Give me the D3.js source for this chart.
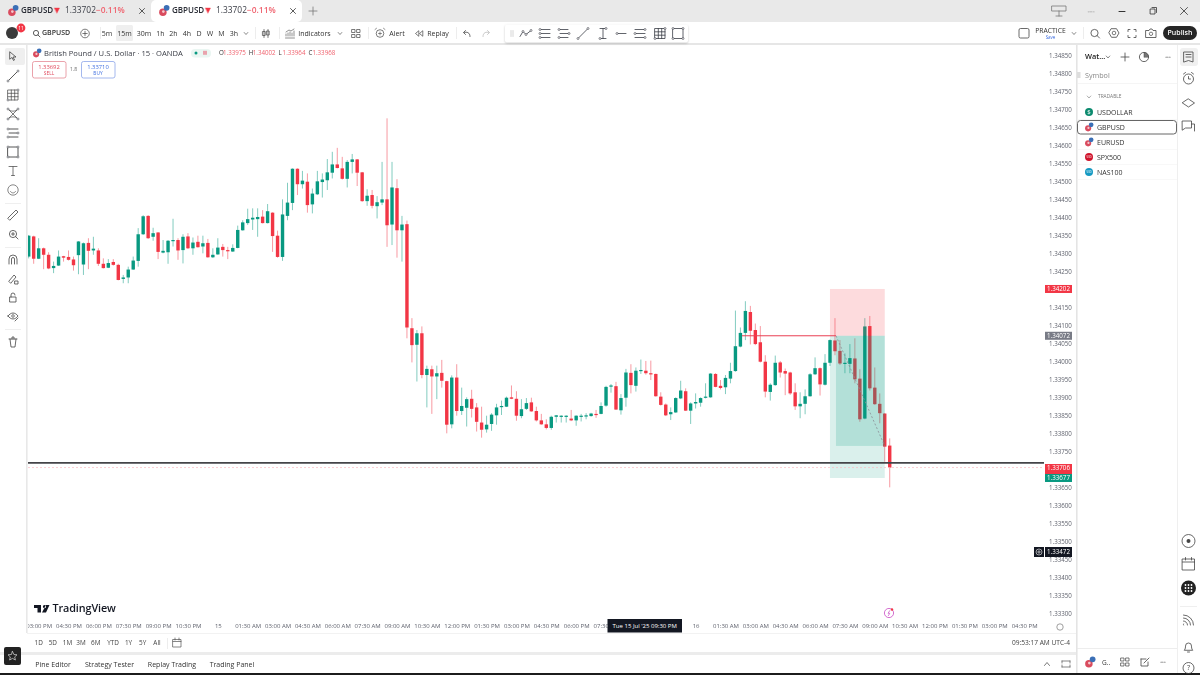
<!DOCTYPE html>
<html><head><meta charset="utf-8">
<script src="https://d3js.org/d3.v7.min.js"></script>
<style>html,body{margin:0;padding:0;background:#fff;overflow:hidden}svg{display:block;font-family:"Open Sans",sans-serif;filter:blur(.3px)}</style>
</head><body><svg id="c" width="1200" height="675"></svg>
<script>
// Bars run from 14 Jul 14:30 (index -38) to 16 Jul 09:45 (index 135); index 0 = 15 Jul 00:00
const opens=[1.34292,1.34348,1.34286,1.34315,1.34297,1.34260,1.34267,1.34293,1.34291,1.34284,1.34296,1.34270,1.34330,1.34309,1.34309,1.34272,1.34261,1.34277,1.34269,1.34230,1.34234,1.34256,1.34280,1.34354,1.34405,1.34347,1.34359,1.34303,1.34304,1.34336,1.34338,1.34310,1.34348,1.34315,1.34333,1.34320,1.34330,1.34290,1.34298,
1.34319,1.34310,1.34306,1.34316,1.34365,1.34385,1.34395,1.34396,1.34403,1.34385,1.34414,1.34350,1.34291,1.34405,1.34441,1.34536,1.34493,1.34500,1.34437,1.34465,1.34499,1.34504,1.34525,1.34548,1.34537,1.34508,1.34555,1.34562,1.34526,1.34446,1.34463,1.34432,1.34442,1.34451,1.34381,1.34482,1.34365,1.34382,
1.34093,1.34047,1.34079,1.33963,1.33979,1.33959,1.33969,1.33946,1.33826,1.33956,1.33863,1.33872,1.33897,1.33873,1.33831,1.33812,1.33827,1.33851,1.33874,1.33875,1.33901,1.33897,1.33849,1.33869,1.33887,1.33863,1.33837,1.33826,1.33816,1.33847,1.33847,1.33847,1.33842,1.33837,1.33848,1.33850,
1.33849,1.33855,1.33855,1.33878,1.33931,1.33932,1.33865,1.33900,1.33969,1.33933,1.33975,1.33975,1.33968,1.33966,1.33903,1.33881,1.33854,1.33859,1.33898,1.33918,1.33864,1.33884,1.33886,1.33900,1.33901,1.33966,1.33933,1.33929,1.33953,1.33974,1.34042,1.34080,1.34138,1.34088,1.34054,1.34000,1.33916,1.33935,1.33998,1.33974,
1.33970,1.33915,1.33876,1.33883,1.33904,1.33965,1.33982,1.33936,1.33997,1.34059,1.34030,1.33995,1.33994,1.34009,1.33953,1.33842,1.34099,1.33928,1.33883,1.33856,1.33767];
const highs=[1.34352,1.34350,1.34343,1.34317,1.34304,1.34278,1.34309,1.34294,1.34309,1.34292,1.34335,1.34331,1.34343,1.34347,1.34315,1.34287,1.34285,1.34285,1.34272,1.34241,1.34264,1.34292,1.34371,1.34407,1.34407,1.34372,1.34360,1.34338,1.34338,1.34397,1.34343,1.34354,1.34357,1.34345,1.34350,1.34350,1.34341,1.34315,1.34343,
1.34327,1.34319,1.34326,1.34378,1.34393,1.34425,1.34426,1.34426,1.34421,1.34438,1.34415,1.34364,1.34451,1.34497,1.34537,1.34537,1.34530,1.34523,1.34481,1.34530,1.34523,1.34563,1.34583,1.34594,1.34569,1.34560,1.34577,1.34563,1.34527,1.34479,1.34477,1.34460,1.34555,1.34676,1.34555,1.34507,1.34405,1.34392,
1.34121,1.34088,1.34098,1.33989,1.33989,1.33989,1.34005,1.33947,1.33962,1.33993,1.33928,1.33901,1.33922,1.33885,1.33875,1.33850,1.33857,1.33883,1.33892,1.33903,1.33934,1.33918,1.33896,1.33899,1.33900,1.33875,1.33855,1.33840,1.33850,1.33852,1.33851,1.33851,1.33866,1.33851,1.33855,1.33857,
1.33858,1.33866,1.33887,1.33933,1.33938,1.33944,1.33910,1.33980,1.33993,1.33984,1.34006,1.34002,1.34003,1.33967,1.33915,1.33884,1.33873,1.33901,1.33947,1.33926,1.33887,1.33912,1.33901,1.33940,1.33968,1.33968,1.33949,1.33963,1.33997,1.34142,1.34095,1.34168,1.34155,1.34106,1.34099,1.34018,1.33940,1.34017,1.34002,1.33981,
1.33972,1.33940,1.33915,1.33923,1.33968,1.34012,1.33984,1.34021,1.34062,1.34121,1.34060,1.34023,1.34049,1.34065,1.33979,1.34121,1.34127,1.33984,1.33912,1.33857,1.33787];
const lows=[1.34287,1.34272,1.34285,1.34257,1.34257,1.34246,1.34266,1.34278,1.34281,1.34253,1.34243,1.34241,1.34257,1.34297,1.34266,1.34259,1.34260,1.34267,1.34226,1.34218,1.34218,1.34255,1.34264,1.34352,1.34341,1.34336,1.34285,1.34301,1.34272,1.34320,1.34283,1.34273,1.34313,1.34297,1.34317,1.34301,1.34289,1.34288,1.34297,
1.34292,1.34285,1.34305,1.34315,1.34364,1.34380,1.34366,1.34347,1.34384,1.34384,1.34305,1.34289,1.34280,1.34393,1.34421,1.34463,1.34481,1.34414,1.34412,1.34463,1.34456,1.34477,1.34509,1.34537,1.34506,1.34484,1.34523,1.34488,1.34444,1.34433,1.34426,1.34398,1.34435,1.34319,1.34324,1.34289,1.34278,1.34065,
1.33998,1.33945,1.33954,1.33873,1.33855,1.33896,1.33928,1.33801,1.33815,1.33850,1.33852,1.33820,1.33845,1.33806,1.33789,1.33803,1.33808,1.33825,1.33852,1.33874,1.33896,1.33836,1.33843,1.33866,1.33861,1.33834,1.33825,1.33812,1.33811,1.33831,1.33831,1.33831,1.33835,1.33822,1.33834,1.33840,
1.33847,1.33844,1.33854,1.33875,1.33914,1.33866,1.33853,1.33875,1.33912,1.33917,1.33966,1.33964,1.33949,1.33903,1.33878,1.33849,1.33838,1.33858,1.33896,1.33863,1.33827,1.33870,1.33875,1.33898,1.33900,1.33929,1.33923,1.33910,1.33940,1.33972,1.34040,1.34060,1.34048,1.34046,1.33998,1.33901,1.33892,1.33933,1.33956,1.33907,
1.33908,1.33866,1.33843,1.33854,1.33903,1.33963,1.33906,1.33934,1.33988,1.34018,1.33991,1.33968,1.33968,1.33940,1.33833,1.33840,1.33920,1.33880,1.33829,1.33722,1.33651];
const closes=[1.34350,1.34286,1.34315,1.34297,1.34259,1.34266,1.34292,1.34289,1.34283,1.34268,1.34334,1.34329,1.34308,1.34314,1.34272,1.34260,1.34274,1.34269,1.34227,1.34234,1.34256,1.34281,1.34354,1.34404,1.34343,1.34357,1.34305,1.34308,1.34336,1.34338,1.34309,1.34347,1.34315,1.34331,1.34318,1.34329,1.34290,1.34297,1.34317,
1.34310,1.34308,1.34316,1.34366,1.34387,1.34396,1.34400,1.34402,1.34385,1.34418,1.34349,1.34291,1.34409,1.34442,1.34536,1.34493,1.34503,1.34435,1.34467,1.34501,1.34506,1.34526,1.34548,1.34538,1.34508,1.34555,1.34562,1.34525,1.34446,1.34461,1.34433,1.34443,1.34451,1.34379,1.34484,1.34365,1.34381,1.34095,
1.34046,1.34079,1.33963,1.33980,1.33959,1.33968,1.33947,1.33825,1.33956,1.33863,1.33877,1.33896,1.33869,1.33833,1.33811,1.33825,1.33853,1.33873,1.33877,1.33900,1.33897,1.33850,1.33868,1.33885,1.33862,1.33837,1.33826,1.33816,1.33847,1.33851,1.33850,1.33850,1.33837,1.33850,1.33850,1.33851,
1.33856,1.33852,1.33877,1.33930,1.33934,1.33867,1.33899,1.33970,1.33935,1.33975,1.33977,1.33968,1.33967,1.33904,1.33880,1.33851,1.33860,1.33899,1.33920,1.33864,1.33884,1.33888,1.33899,1.33903,1.33967,1.33930,1.33927,1.33955,1.33974,1.34043,1.34080,1.34141,1.34086,1.34049,1.34000,1.33917,1.33936,1.33997,1.33970,1.33967,
1.33912,1.33876,1.33883,1.33904,1.33965,1.33982,1.33937,1.33997,1.34060,1.34029,1.33995,1.33997,1.34010,1.33951,1.33840,1.34098,1.33926,1.33882,1.33857,1.33764,1.33706];
const priceTicks=[1.3485,1.348,1.3475,1.347,1.3465,1.346,1.3455,1.345,1.3445,1.344,1.3435,1.343,1.3425,1.3415,1.341,1.3405,1.34,1.3395,1.339,1.3385,1.338,1.3375,1.3365,1.336,1.3355,1.335,1.3345,1.334,1.3335,1.333];
const timeLabels=["03:00 PM","04:30 PM","06:00 PM","07:30 PM","09:00 PM","10:30 PM","15","01:30 AM","03:00 AM","04:30 AM","06:00 AM","07:30 AM","09:00 AM","10:30 AM","12:00 PM","01:30 PM","03:00 PM","04:30 PM","06:00 PM","07:30 PM","16","01:30 AM","03:00 AM","04:30 AM","06:00 AM","07:30 AM","09:00 AM","10:30 AM","12:00 PM","01:30 PM","03:00 PM","04:30 PM"];
const timeIndex=[-36,-30,-24,-18,-12,-6,0,6,12,18,24,30,36,42,48,54,60,66,72,78,96,102,108,114,120,126,132,138,144,150,156,162];
const entryPrice=1.34072, stopPrice=1.34202, targetPrice=1.33677, levelPrice=1.33719, lastPrice=1.33706, crossPrice=1.33472;
const posStart=124, posEnd=134, posExitPrice=1.33766, legendOHLC=["1.33975","1.34002","1.33964","1.33968"];
const watch=["USDOLLAR","GBPUSD","EURUSD","SPX500","NAS100"], watchColors=["#0b8a6e","#e8a0ac","#2d6db5","#d0142c","#1599c2"];
const frames=["5m","15m","30m","1h","2h","4h","D","W","M","3h"], ranges=["1D","5D","1M","3M","6M","YTD","1Y","5Y","All"];

const up="#089981",dn="#f23645",ink="#3a3d46",dim="#6a6d78";
const svg=d3.select("#c");
const x=d3.scaleLinear().domain([-38,162]).range([28.7,1024.1]);
const y=d3.scaleLinear().domain([1.333,1.3485]).range([613.7,55.7]);
const idx=opens.map((_,i)=>i-38);
const defs=svg.append("defs");
defs.append("clipPath").attr("id","pl").append("rect").attr("x",28).attr("y",45).attr("width",1017).attr("height",590);
const R=(a,b,w,h,f,o={})=>{const r=svg.append("rect").attr("x",a).attr("y",b).attr("width",w).attr("height",h).attr("fill",f);for(const k in o)r.attr(k,o[k]);return r};
const T=(a,b,s,z=7,c=ink,o={})=>{const t=svg.append("text").attr("x",a).attr("y",b).attr("font-size",z).attr("fill",c).attr("dominant-baseline","middle").text(s);for(const k in o)t.attr(k,o[k]);return t};
const P=(a,b,d,c="#4a4d56",w=.8,f="none")=>svg.append("path").attr("transform",`translate(${a},${b})`).attr("d",d).attr("stroke",c).attr("stroke-width",w).attr("fill",f).attr("stroke-linecap","round");
const H=(a,b,pts,c="#4a4d56")=>pts.forEach(([u,v])=>svg.append("circle").attr("cx",a+u).attr("cy",b+v).attr("r",1).attr("fill","#fff").attr("stroke",c).attr("stroke-width",.6));
const flag=(a,b,s=1)=>{svg.append("circle").attr("cx",a-1*s).attr("cy",b+1.5*s).attr("r",3.4*s).attr("fill","#d94b5e");svg.append("circle").attr("cx",a+2.4*s).attr("cy",b-2.4*s).attr("r",2.6*s).attr("fill","#3b6fb6");svg.append("circle").attr("cx",a-.6*s).attr("cy",b+1*s).attr("r",1.2*s).attr("fill","#f3c9cf")};

// chrome backgrounds
R(0,0,1200,22,"#e9e9e9");
R(0,22,1200,21,"#fff");
R(0,43,1200,2,"#e6e6e6");
R(151,0,151,22,"#fff",{rx:5});
R(26,45,1.6,588,"#e8e8e8");
R(1076,45,1.6,630,"#e4e4e4");
R(1177,45,.8,630,"#ececec");

// candles
const g=svg.append("g").attr("clip-path","url(#pl)");
g.selectAll("line.w").data(idx).join("line").attr("x1",i=>x(i)).attr("x2",i=>x(i))
 .attr("y1",(i)=>y(highs[i+38])).attr("y2",(i)=>y(lows[i+38]))
 .attr("stroke",i=>closes[i+38]>=opens[i+38]?up:dn).attr("stroke-width",1).attr("stroke-opacity",.5);
g.selectAll("rect.b").data(idx).join("rect").attr("x",i=>x(i)-1.7).attr("width",3.4)
 .attr("y",i=>y(Math.max(opens[i+38],closes[i+38])))
 .attr("height",i=>Math.max(1.2,Math.abs(y(opens[i+38])-y(closes[i+38]))))
 .attr("fill",i=>closes[i+38]>=opens[i+38]?up:dn);

// position tool
const pL=x(posStart)-5,pR=x(posEnd);
R(pL,y(stopPrice),pR-pL,y(entryPrice)-y(stopPrice),"rgba(242,54,69,.18)");
R(pL,y(entryPrice),pR-pL,y(targetPrice)-y(entryPrice),"rgba(8,153,129,.15)");
R(x(posStart)+1,y(entryPrice),pR-x(posStart)-1,y(posExitPrice)-y(entryPrice),"rgba(8,153,129,.18)");
svg.append("line").attr("x1",x(posStart)+1).attr("x2",pR).attr("y1",y(entryPrice)).attr("y2",y(posExitPrice)).attr("stroke","#8a8d96").attr("stroke-width",.8).attr("stroke-dasharray","2 2");
svg.append("line").attr("x1",742).attr("x2",pL+6).attr("y1",y(entryPrice)).attr("y2",y(entryPrice)).attr("stroke","#ea3f52").attr("stroke-width",1);

// level lines
svg.append("line").attr("x1",28).attr("x2",1044).attr("y1",y(levelPrice)).attr("y2",y(levelPrice)).attr("stroke","#444448").attr("stroke-width",1.6);
svg.append("line").attr("x1",28).attr("x2",1044).attr("y1",y(lastPrice)).attr("y2",y(lastPrice)).attr("stroke","#f9bcc3").attr("stroke-width",.7).attr("stroke-dasharray","2 2");

// axes
const ya=svg.append("g").attr("transform","translate(1049,0)").call(d3.axisRight(y).tickValues(priceTicks).tickSize(0).tickPadding(0).tickFormat(d=>d.toFixed(5)));
ya.select(".domain").remove();
ya.selectAll("text").attr("font-size",6.2).attr("font-family","Open Sans").attr("fill","#60636e");
const xa=svg.append("g").attr("clip-path","url(#pl)").append("g").attr("transform","translate(0,624)").call(d3.axisBottom(x).tickValues(timeIndex).tickSize(0).tickPadding(0).tickFormat((d,i)=>timeLabels[i]));
xa.select(".domain").remove();
xa.selectAll("text").attr("font-size",6).attr("font-family","Open Sans").attr("fill","#60636e");

// price tags
const tag=(p,c)=>{const b=y(p);R(1045,b-4,27,8,c);T(1058.5,b+.2,p.toFixed(5),6.2,"#fff",{"text-anchor":"middle"})};
tag(stopPrice,"#f23645");tag(entryPrice,"#787b86");
R(1045,464,27,11,"#f23645");T(1058.5,468,lastPrice.toFixed(5),6.2,"#fff",{"text-anchor":"middle"});
tag(targetPrice,"#089981");
R(1045,547,27,10,"#131722");T(1058.5,552,crossPrice.toFixed(5),6.2,"#fff",{"text-anchor":"middle"});
R(1034,547,10,10,"#131722");svg.append("circle").attr("cx",1039).attr("cy",552).attr("r",3).attr("fill","none").attr("stroke","#fff").attr("stroke-width",.6);P(1039,552,"M-1.5 0H1.5M0-1.5V1.5","#fff",.6);
R(607.5,619,74.5,13.5,"#131722");T(644.7,626,"Tue 15 Jul '25  09:30 PM",6,"#fff",{"text-anchor":"middle"});

// lightning + gear
svg.append("circle").attr("cx",889).attr("cy",613).attr("r",4.6).attr("fill","#fff").attr("stroke","#c94bc4").attr("stroke-width",.8);
P(889,613,"M.8-2.4-1 .3H.8L-.6 2.6","#c94bc4",.7);svg.append("circle").attr("cx",892).attr("cy",609.5).attr("r",1.2).attr("fill","#f23645");
svg.append("circle").attr("cx",1060).attr("cy",627).attr("r",3.2).attr("fill","none").attr("stroke","#777").attr("stroke-width",.7);

// TradingView logo
P(34,605,"M0 0H7V7.5H3.5V3H0ZM10.5 0a1.6 1.6 0 1 0 .01 0M8 7.5L12 0H15.5L12 7.5Z","none",0,"#131722");
T(52.5,609.3,"TradingView",10.8,"#131722",{"font-weight":600,"letter-spacing":"-.1"});

// tabs
for(const dx of[0,151]){flag(13+dx,10.5,1.1);T(21+dx,10.5,"GBPUSD",8,"#2a2d36",{"font-weight":600});
 P(57+dx,10.5,"M-2.5-2.5H2.5L0 2.5Z",dn,.4,dn);T(65+dx,10.5,"1.33702",8.4,"#3a3d46");T(96+dx,10.5,"−0.11%",8.4,"#f0636f",{"font-weight":600});
 P(142+dx,11,"M-2.5-2.5L2.5 2.5M2.5-2.5L-2.5 2.5","#333",.8)}
P(313,11,"M-4 0H4M0-4V4","#777",.8);
P(1059,10,"M-7-4H7V1H-7ZM0 1V6M-3 6H3","#777",.8);
T(1091,11.5,"○○○",4,"#777",{"text-anchor":"middle"});
P(1122,11.5,"M-3 0H3","#333",1);P(1153,11,"M-2.5-2H2V3H-2.5ZM-1-3.5H3.5V1.5","#333",.8);P(1184,11,"M-3.5-3.5L3.5 3.5M3.5-3.5L-3.5 3.5","#333",.8);

// toolbar
svg.append("circle").attr("cx",12).attr("cy",33).attr("r",6).attr("fill","#3a3a3a");
svg.append("circle").attr("cx",21).attr("cy",28).attr("r",4.4).attr("fill","#f23645");T(21,28.2,"11",5,"#fff",{"text-anchor":"middle"});
svg.append("circle").attr("cx",36).attr("cy",33).attr("r",2.6).attr("fill","none").attr("stroke","#333").attr("stroke-width",.8);P(38,35,"M0 0L2 2","#333",.8);
T(42,33.5,"GBPUSD",7,"#333",{"font-weight":600});
svg.append("circle").attr("cx",85).attr("cy",33.5).attr("r",4.3).attr("fill","none").attr("stroke","#444").attr("stroke-width",.7);P(85,33.5,"M-2.2 0H2.2M0-2.2V2.2","#444",.7);
R(116,25,17,16,"#efefef",{rx:1.5});
[107,124.5,144,160.5,173.5,187,199,210,221.5,234].forEach((a,i)=>T(a,33.8,frames[i],7,"#333",{"text-anchor":"middle"}));
P(246,33.5,"M-1.8-1L0 1L1.8-1","#555",.7);
[100,255,279,368,456,1083].forEach(a=>R(a,27,.6,12,"#e2e2e2"));
P(266,33.5,"M-2-4V4M-3.2-2H-.8V2H-3.2ZM2-4V4M.8-2.5H3.2V1.5H.8Z","#444",.7);
P(290,34,"M-4.5 4H4.5M-4 2V0M-2 2V-1M0 2V-2M2 2V-1M4 2V-3M-4-2L-1-4L1-3L4-5","#444",.6);
T(314.5,34,"Indicators",7,"#333",{"text-anchor":"middle"});P(340,33.5,"M-1.8-1L0 1L1.8-1","#555",.7);
P(356,33.5,"M-4-4H-1V-1H-4ZM1-4H4V-1H1ZM-4 1H-1V4H-4ZM1 1H4V4H1Z","#444",.7);
svg.append("circle").attr("cx",380).attr("cy",33.5).attr("r",3.8).attr("fill","none").attr("stroke","#444").attr("stroke-width",.7);P(380,33.5,"M-5-4L-3.5-5.2M5-4L3.5-5.2M-1.5 0H1.5M0-1.5V1.5","#444",.6);T(397,34,"Alert",7,"#333",{"text-anchor":"middle"});
P(419,33.5,"M-.5-2.5L-3.5 0L-.5 2.5ZM3.5-2.5L.5 0L3.5 2.5Z","#444",.7);T(438,34,"Replay",7,"#333",{"text-anchor":"middle"});
P(467,33.5,"M3 3C3-1 0-2-3-1M-1.5-3L-3.5-1L-1.5 1","#444",.8);P(486,33.5,"M-3 3C-3-1 0-2 3-1M1.5-3L3.5-1L1.5 1","#bbb",.8);
// floating drawing bar
R(505,24.5,183,18,"#fff",{rx:2,style:"filter:drop-shadow(0 1px 1px rgba(0,0,0,.2))"});
P(511,33.5,"M0-3V3M2-3V3","#ccc",.8);
const draw=[["M-6 3L-3-2L0 1L5-3",526,[[-3,-2],[0,1],[5,-3]]],["M-4-4H5M-4 0H5M-4 4H5",545,[[-5,-4],[-5,0],[-5,4]]],["M-5-4H4M-4 0H5M-5 4H4",564,[[-5,-4],[5,0],[-5,4]]],["M-5 5L5-5",583,[[-5,5],[5,-5]]],["M-3-5H3M0-5V5M-3 5H3",603,[[3,-5],[-3,5]]],["M-3 0H5",621,[[-4,0]]],["M-5-4H4M-4 0H5M-5 4H4",640,[[5,-4],[-5,0],[5,4]]],["M-5-5H5V5H-5ZM-1.7-5V5M1.7-5V5M-5-1.7H5M-5 1.7H5",660,[[5,-5],[-5,5]]],["M-5-5H5V5H-5Z",678,[[-5,-5],[5,-5],[-5,5],[5,5]]]];
draw.forEach(([d,a,h])=>{P(a,33.5,d,"#3a3d46",.8);H(a,33.5,h,"#3a3d46")});
// right toolbar
R(1019,28.5,10,9.5,"none",{stroke:"#444","stroke-width":.8,rx:1.5});
T(1050.5,30.8,"PRACTICE",6.8,"#333",{"text-anchor":"middle"});T(1050.5,37.8,"Save",4.5,"#3f6fe0",{"text-anchor":"middle"});
P(1074,33.5,"M-1.8-1L0 1L1.8-1","#555",.7);
svg.append("circle").attr("cx",1094.5).attr("cy",33).attr("r",3.6).attr("fill","none").attr("stroke","#444").attr("stroke-width",.8);P(1097,35.5,"M0 0L2.5 2.5","#444",.8);
P(1114,33,"M-2.5-4.3H2.5L5 0L2.5 4.3H-2.5L-5 0Z","#444",.8);svg.append("circle").attr("cx",1114).attr("cy",33).attr("r",1.8).attr("fill","none").attr("stroke","#444").attr("stroke-width",.7);
P(1132,33.5,"M-4-2V-4H-2M2-4H4V-2M4 2V4H2M-2 4H-4V2","#444",.8);
P(1151,33.5,"M-5-3H-2L-1-4.5H1L2-3H5V4H-5Z","#444",.8);svg.append("circle").attr("cx",1151).attr("cy",33.8).attr("r",1.7).attr("fill","none").attr("stroke","#444").attr("stroke-width",.7);
R(1163,26,34,14,"#262626",{rx:7});T(1180,33.5,"Publish",7,"#fff",{"text-anchor":"middle","font-weight":600});

// chart legend
flag(37,53,.9);
T(44,53.5,"British Pound / U.S. Dollar · 15 · OANDA",7.6,"#3a3d46");
R(191,49,20,8.5,"#eaf6f2",{rx:4});svg.append("circle").attr("cx",196).attr("cy",53).attr("r",1.5).attr("fill",up);R(203,50.8,4,4,"#e9a3ad");
["O","H","L","C"].forEach((k,i)=>{const a=219+i*29.8;T(a,53.5,k,6.2,"#333");T(a+4,53.5,legendOHLC[i],6.2,"#f0636f")});
R(32.5,61.5,33.5,16.5,"#fff",{rx:2,stroke:"#e58a95","stroke-width":.8});T(49,67,"1.33692",5.8,"#e0495c",{"text-anchor":"middle"});T(49,73.5,"SELL",4.8,"#e0495c",{"text-anchor":"middle"});
T(73.5,69.5,"1.8",5,"#666",{"text-anchor":"middle"});
R(81.5,61.5,33.5,16.5,"#fff",{rx:2,stroke:"#8da6ea","stroke-width":.8});T(98,67,"1.33710",5.8,"#3f6fe0",{"text-anchor":"middle"});T(98,73.5,"BUY",4.8,"#3f6fe0",{"text-anchor":"middle"});

// left tools
R(5,48,20,17,"#efefef",{rx:2});
P(13,56,"M-3-4L3 1H0L1.5 4L.5 4.5L-1 1.5L-3 3Z","#444",.8);
P(13,76,"M-5 5L5-5","#444",.9);H(13,76,[[-5,5],[5,-5]]);
P(13,95,"M-5-5H5V5H-5ZM-1.7-5V5M1.7-5V5M-5-1.7H5M-5 1.7H5","#444",.7);H(13,95,[[5,-5],[-5,5]]);
P(13,114,"M-5-5C-2-2 2-2 5-5M-5 5C-2 2 2 2 5 5M-5-5L5 5M5-5L-5 5","#444",.7);H(13,114,[[-5,-5],[5,-5],[-5,5],[5,5]]);
P(13,133,"M-4-4H5M-4 0H5M-4 4H5","#444",.9);H(13,133,[[-5,-4],[5,0],[-5,4]]);
P(13,152,"M-5-5H5V5H-5Z","#444",.9);H(13,152,[[-5,-5],[5,-5],[-5,5],[5,5]]);
P(13,171,"M-4-4.5H4M0-4.5V4.5M-1.5 4.5H1.5","#555",.8);
svg.append("circle").attr("cx",13).attr("cy",190).attr("r",5.2).attr("fill","none").attr("stroke","#555").attr("stroke-width",.7);P(13,191,"M-2.5 .5C-1 2.5 1 2.5 2.5 .5","#555",.7);
[203,247,329].forEach(v=>R(5,v,16,.6,"#e5e5e5"));
P(13,215,"M-5 3L3-5L5-3L-3 5Z","#444",.8);
svg.append("circle").attr("cx",13).attr("cy",234).attr("r",3.6).attr("fill","none").attr("stroke","#444").attr("stroke-width",.8);P(13,234,"M-1.5 0H1.5M0-1.5V1.5M2.6 2.6L5 5","#444",.8);
P(13,260,"M-4 4V-1A4 4 0 0 1 4-1V4M-1.5 4V-1A1.5 1.5 0 0 1 1.5-1V4","#444",.8);
P(13,279,"M-4 2L1-4L3-2L-2 4ZM2 2H5V5H2Z","#444",.8);
P(13,298,"M-3-1H3V4H-3ZM-2-1V-3A2 2 0 0 1 2-3","#444",.8);
P(13,316,"M-5 0C-2-4 2-4 5 0C2 4-2 4-5 0ZM2 5L5 2","#444",.8);svg.append("circle").attr("cx",13).attr("cy",316).attr("r",1.3).attr("fill","none").attr("stroke","#444").attr("stroke-width",.7);
P(13,342,"M-4-3H4M-3-3L-2 5H2L3-3M-1-3V-5H1V-3","#444",.8);

// bottom bars
R(27,633,1049,.7,"#ececec");
ranges.forEach((r,i)=>T([38.7,52.8,67.5,81,95.7,113,128.5,142.7,157][i],643.5,r,6.4,"#444",{"text-anchor":"middle"}));
R(167,638,.6,11,"#e2e2e2");P(177,643,"M-4-3.5H4V4H-4ZM-4-1.5H4M-2-5V-3M2-5V-3","#555",.7);
T(1070,643.5,"09:53:17 AM UTC-4",6.6,"#444",{"text-anchor":"end"});
R(0,652,1076,3,"#ececec");R(1077,648,100,.7,"#e6e6e6");
[["Pine Editor",53],["Strategy Tester",109.5],["Replay Trading",172],["Trading Panel",232]].forEach(([s,a])=>T(a,665,s,7,"#333",{"text-anchor":"middle"}));
R(4,647,17,18,"#222",{rx:2});P(12.5,656,"M0-4.5L1.4-1.5L4.5-1.2L2.2 .9L2.9 4L0 2.4L-2.9 4L-2.2 .9L-4.5-1.2L-1.4-1.5Z","#ddd",.7);
P(1047,664,"M-2.5 1.5L0-1.5L2.5 1.5","#555",.8);P(1066,664,"M-4-3H4M-4 3H4M-4-3V-1M4-3V-1M-4 3V1M4 3V1","#555",.7);
flag(1090,662,1.1);T(1102,663,"G..",6.5,"#333");
P(1125,662,"M-4-4H-1V-1H-4ZM1-4H4V-1H1ZM-4 1H-1V4H-4ZM1 1H4V4H1Z","#444",.7);
P(1145,662,"M-4-3H1M-4-3V4H3V0M-1 1L4-4","#444",.8);T(1163,662.5,"●●●",3,"#777",{"text-anchor":"middle"});
R(0,673,1200,2,"#1c1c1c");

// watchlist
T(1085,57,"Wat...",7.4,"#222",{"font-weight":600});P(1108,57,"M-1.8-1L0 1L1.8-1","#555",.7);
P(1125,57,"M-4 0H4M0-4V4","#444",.8);svg.append("circle").attr("cx",1144).attr("cy",57).attr("r",4.6).attr("fill","none").attr("stroke","#444").attr("stroke-width",.8);P(1144,57,"M0 0V-4.6A4.6 4.6 0 0 1 4.6 0Z","#444",.5,"#777");
T(1168,57.5,"●●●",3,"#777",{"text-anchor":"middle"});
R(1077,72,3.5,6,"#ddd");T(1085,76,"Symbol",7.2,"#888");R(1077,83,100,.6,"#eee");
P(1089,97,"M-1.8-1L0 1L1.8-1","#777",.6);T(1098,97,"TRADABLE",4.8,"#777");
R(1077.5,120.5,99,13.5,"#fff",{rx:3,stroke:"#555","stroke-width":.9});
watch.forEach((s,i)=>{const b=112+i*15;
 if(i==1)flag(1089,b,.9);else if(i==2)flag(1089,b,.9);else{svg.append("circle").attr("cx",1089).attr("cy",b).attr("r",4).attr("fill",watchColors[i]);T(1089,b+.2,i==0?"$":"500",i==0?6:3,"#fff",{"text-anchor":"middle"})}
 T(1097,b+1,s,7,"#333");if(i!=1)R(1077,b+7.5,100,.5,"#f0f0f0")});

// right rail
R(1180,48,18,18,"#f0f0f0",{rx:3});
P(1188.5,57,"M-4.5-5H4.5V5L0 3.5L-4.5 5ZM-2.5-2.5H2.5M-2.5 0H2.5","#444",.8);
svg.append("circle").attr("cx",1188.5).attr("cy",79).attr("r",5).attr("fill","none").attr("stroke","#444").attr("stroke-width",.8);P(1188.5,79,"M0-2.5V0H2M-5-5L-3-6.5M5-5L3-6.5","#444",.8);
P(1188.5,103,"M0-4L6 0L0 4L-6 0Z","#444",.8);P(1188.5,126,"M-6-5H3V2H-3L-6 4ZM3-2H6V5","#444",.8);
svg.append("circle").attr("cx",1188.5).attr("cy",541).attr("r",6.5).attr("fill","none").attr("stroke","#444").attr("stroke-width",.8);svg.append("circle").attr("cx",1188.5).attr("cy",541).attr("r",2).attr("fill","#444");
P(1188.5,564,"M-6-5H6V6H-6ZM-6-2H6M-3-6.5V-4M3-6.5V-4","#444",.8);
svg.append("circle").attr("cx",1188.5).attr("cy",588).attr("r",7.5).attr("fill","#222");
for(const a of[-3,0,3])for(const b of[-3,0,3])svg.append("circle").attr("cx",1188.5+a).attr("cy",588+b).attr("r",.9).attr("fill","#fff");
R(1180,606,17,.6,"#e5e5e5");
P(1188.5,620,"M-5 5A1 1 0 0 1-5 4M-5 1A4 4 0 0 1-1 5M-5-2A7 7 0 0 1 2 5M-5-5A10 10 0 0 1 5 5","#444",.8);
P(1188.5,647,"M-4 3C-3 2-3 0-3-1A3 3 0 0 1 3-1C3 0 3 2 4 3ZM-1 5H1","#444",.8);
svg.append("circle").attr("cx",1188.5).attr("cy",668).attr("r",5.5).attr("fill","none").attr("stroke","#444").attr("stroke-width",.8);T(1188.5,668.5,"?",7,"#444",{"text-anchor":"middle"});
</script></body></html>
